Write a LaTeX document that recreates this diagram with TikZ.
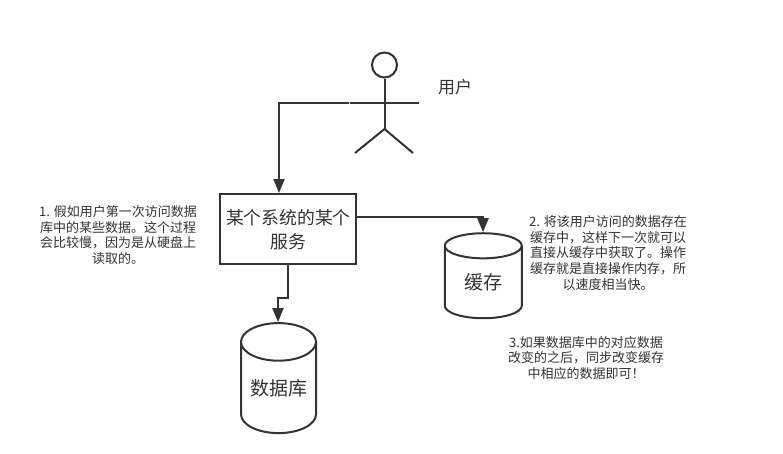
\documentclass[tikz,border=0pt]{standalone}
\usepackage{fontspec}
\setmainfont{Noto Sans CJK SC}[Scale=1]
\usetikzlibrary{arrows.meta,shapes.geometric}
\definecolor{ink}{HTML}{333333}
\tikzset{
  line/.style={draw=ink,line width=2pt},
  conn/.style={line,-{Triangle[length=14pt,width=11pt,color=ink]}},
  dbshape/.style={cylinder,shape border rotate=90,line,fill=white,aspect=0.66,inner sep=0pt,text=ink,font=\fontsize{19}{19}\selectfont},
  note/.style={align=center,text=ink,inner sep=0pt,font=\fontsize{13}{15.6}\selectfont},
  boxstyle/.style={line,text=ink,align=center,inner sep=0pt,font=\fontsize{17.8}{24}\selectfont}
}
\begin{document}
\begin{tikzpicture}[x=1pt,y=-1pt]
\useasboundingbox (0,0) rectangle (783,453);
\fill[white] (0,0) rectangle (783,453);
% actor
\node[circle,line,minimum size=25pt,inner sep=0pt] (head) at (384.5,65) {};
\coordinate (hip) at (384.5,129);
\coordinate (armL) at (350,102.5);
\coordinate (armR) at (419,102.5);
\coordinate (legL) at (355,153);
\coordinate (legR) at (413,153);
\coordinate (connStart) at (349,102.5);
\draw[line] (head.south) -- (hip);
\draw[line] (armL) -- (armR);
\draw[line] (legL) -- (hip) -- (legR);
\node[text=ink,inner sep=0pt,font=\fontsize{17}{17}\selectfont] (userlabel) at (455,87) {用户};
% service box
\node[boxstyle,minimum width=136pt,minimum height=70pt] (svc) at (288.3,229.3) {某个系统的某个\\服务};
% cylinders
\node[dbshape,minimum width=75pt,minimum height=110pt] (db) at (278.5,388) {数据库};
\node[dbshape,minimum width=77pt,minimum height=85pt] (cache) at (483.3,282.5) {缓存};
% connectors
\draw[conn] (connStart) -- (279,102.5) -- (279,193);
\coordinate (c1) at (288,298);
\coordinate (c2) at (278,298);
\draw[conn] (svc.south -| c1) -- (c1) -- (c2) -- (db.top -| c2);
\coordinate (c3) at (483,216.5);
\draw[conn] (svc.east |- c3) -- (c3) -- (cache.top -| c3);
% notes
\node[note] (n1) at (118,235) {1. 假如用户第一次访问数据\\库中的某些数据。这个过程\\会比较慢，因为是从硬盘上\\读取的。};
\node[note] (n2) at (608,253) {2. 将该用户访问的数据存在\\缓存中，这样下一次就可以\\直接从缓存中获取了。操作\\缓存就是直接操作内存，所\\以速度相当快。};
\node[note] (n3) at (586,358) {3.如果数据库中的对应数据\\改变的之后，同步改变缓存\\中相应的数据即可！};
\end{tikzpicture}
\end{document}
